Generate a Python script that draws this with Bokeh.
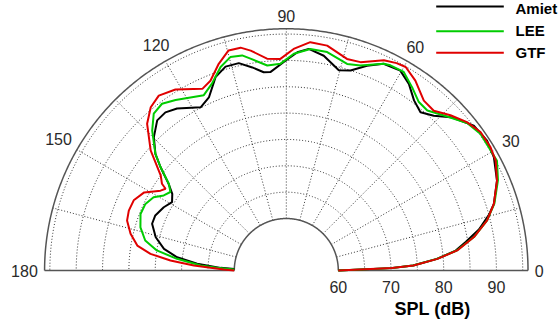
import numpy as np
from bokeh.plotting import figure
from bokeh.models import Range1d
from bokeh.embed import file_html
from bokeh.resources import INLINE
from bokeh.core.properties import value

# ---------------- data (angle in degrees, SPL in dB) ----------------
angle_amiet = [0, 1.3, 2.25, 4.4, 6.7, 9.0, 12.0, 15.5, 17.8, 23.1, 28.6, 32.9, 37.7, 43.0,
               46.4, 49.7, 53.1, 56.7, 60.3, 64.8, 68.5, 72.2, 75.3, 80.1, 84.2, 87.1, 90.7,
               94.6, 96.5, 99.5, 102.9, 106.6, 110.1, 114.1, 117.7, 124.0, 127.4, 130.7,
               134.8, 138.3, 140.6, 143.6, 146.1, 149.1, 152.7, 157.2, 160.8, 165.7, 170.0,
               173.1, 175.7, 177.7, 178.3]
spl_amiet = [60, 70.0, 74.2, 78.8, 82.5, 84.6, 87.5, 90.1, 91.5, 93.6, 95.0, 95.5, 95.1, 92.8,
             90.7, 89.5, 90.5, 92.5, 93.8, 93.5, 91.9, 90.0, 89.4, 91.5, 92.4, 91.6, 89.7,
             87.9, 88.0, 89.2, 90.5, 90.5, 89.2, 86.1, 85.1, 87.2, 87.9, 87.7,
             85.8, 83.4, 81.0, 77.9, 76.2, 75.4, 76.3, 77.1, 77.1, 75.7, 73.7,
             71.0, 67.1, 62.6, 60]

angle_lee = [0, 1.3, 2.25, 4.4, 6.7, 10.1, 14.0, 17.8, 23.1, 27.5, 30.4, 35.1, 39.2, 44.5,
             48.6, 51.8, 55.5, 59.4, 63.1, 64.8, 70.1, 73.6, 79.4, 83.8, 88.0, 91.6, 95.3,
             99.6, 101.6, 104.7, 107.9, 111.7, 115.2, 123.0, 126.7, 130.2, 133.8, 138.3,
             140.6, 143.6, 145.9, 148.5, 151.1, 154.7, 158.8, 163.5, 168.0, 171.2, 173.9,
             176.7, 177.8, 178.8]
spl_lee = [60, 70.0, 74.2, 78.8, 82.7, 86.3, 89.4, 91.6, 93.8, 95.2, 95.1, 95.2, 94.4, 92.1,
           90.6, 90.8, 92.3, 93.9, 93.8, 93.5, 91.5, 91.0, 92.3, 92.4, 91.3, 89.4, 89.2,
           90.9, 91.8, 92.0, 90.7, 88.3, 86.9, 88.7, 89.6, 89.1, 86.9, 83.4,
           81.0, 77.8, 76.7, 77.4, 78.9, 79.7, 79.8, 79.0, 77.5, 75.0, 71.0,
           66.4, 63.3, 60]

angle_gtf = [0, 1.3, 2.25, 4.4, 6.7, 10.1, 14.0, 17.8, 23.1, 27.7, 31.1, 35.5, 39.4, 43.4,
             47.3, 51.0, 55.8, 59.6, 62.0, 65.1, 70.4, 74.0, 79.7, 84.0, 88.1, 91.6, 95.2,
             99.2, 101.6, 104.7, 108.1, 111.8, 114.8, 121.5, 126.1, 129.7, 133.5, 138.5,
             142.9, 145.1, 145.9, 147.6, 151.2, 155.3, 159.2, 162.6, 166.7, 170.5, 173.0,
             175.1, 176.9, 178.0, 179.0, 180]
spl_gtf = [60, 70.2, 74.3, 78.9, 82.8, 86.3, 89.4, 91.5, 93.6, 95.0, 95.4, 95.4, 94.5, 93.0,
           91.4, 91.6, 93.7, 94.9, 94.7, 94.1, 92.1, 91.9, 93.5, 93.7, 92.2, 90.3, 90.5,
           92.4, 93.3, 93.3, 91.4, 88.9, 88.1, 90.4, 91.2, 90.4, 88.5, 84.5,
           80.0, 78.9, 77.8, 78.4, 80.9, 82.0, 82.1, 81.8, 80.5, 78.8, 76.1,
           72.2, 67.7, 64.5, 62.0, 60]

series_names = ["Amiet", "LEE", "GTF"]
series_colors = ["#000000", "#00cc00", "#e00000"]
series_angles = [angle_amiet, angle_lee, angle_gtf]
series_spl = [spl_amiet, spl_lee, spl_gtf]

theta_ticks = [0, 30, 60, 90, 120, 150, 180]
r_tick_labels = [60, 70, 80, 90]
r_grid = [65, 70, 75, 80, 85, 90, 95]
spoke_angles = list(range(15, 180, 15))
R_MIN, R_MAX = 60, 96

# ---------------- layout ----------------
W, H = 558, 324
PX = 5.27            # pixels per dB
CX, CY = 285.8, 270  # polar centre in figure pixels (from left / top)
HOLE = 52 / PX       # inner hole radius (data units)


def rad(db):
    return np.clip(np.asarray(db, dtype=float), R_MIN, R_MAX) - R_MIN + HOLE


def polar(ang, db):
    r = rad(db)
    t = np.deg2rad(np.asarray(ang, dtype=float))
    return r * np.cos(t), r * np.sin(t)


def px(fx, fy):
    return (fx - CX) / PX, (CY - fy) / PX


p = figure(width=W, height=H,
           x_range=Range1d(-CX / PX, (W - CX) / PX),
           y_range=Range1d(-(H - CY) / PX, CY / PX),
           output_backend="svg", toolbar_location=None,
           x_axis_location=None, y_axis_location=None, min_border=0)
p.grid.visible = False
p.outline_line_color = None
p.background_fill_color = "white"
p.border_fill_color = "white"

t_arc = np.linspace(0, 180, 361)
# dotted rings
for db in r_grid:
    x, y = polar(t_arc, np.full_like(t_arc, db))
    p.line(x, y, line_color="#333333", line_width=1, line_dash="1 2")
# dotted spokes
for a in spoke_angles:
    x, y = polar([a, a], [R_MIN, R_MAX])
    p.line(x, y, line_color="#333333", line_width=1, line_dash="1 2")
# solid frame: outer arc, inner arc, baseline
for db in (R_MAX, R_MIN):
    x, y = polar(t_arc, np.full_like(t_arc, db))
    p.line(x, y, line_color="#555555", line_width=1.5)
for a in (0, 180):
    x, y = polar([a, a], [R_MIN, R_MAX])
    p.line(x, y, line_color="#555555", line_width=1.5)

# curves
for ang, spl, col in zip(series_angles, series_spl, series_colors):
    x, y = polar(ang, spl)
    p.line(x, y, line_color=col, line_width=2)

font = value("Liberation Sans")
# angle labels
R_LAB = 248.5
for a in theta_ticks:
    s = str(a)
    c, sn = np.cos(np.deg2rad(a)), np.sin(np.deg2rad(a))
    ext = len(s) * 8.9 / 2 * abs(c) + 6 * abs(sn)
    rr = (R_LAB + ext) / PX
    p.text(x=[rr * c], y=[rr * sn], text=[s], text_font=font, text_font_size="16px",
           text_color="#2a2a2a", text_align="center", text_baseline="middle")

# radial labels
rx, _ = polar([0] * len(r_tick_labels), r_tick_labels)
p.text(x=list(rx), y=[-16 / PX] * len(r_tick_labels), text=[str(v) for v in r_tick_labels],
       text_font=font, text_font_size="16px", text_color="#2a2a2a",
       text_align="center", text_baseline="middle")

# axis title
tx, ty = px(432, 308.5)
p.text(x=[tx], y=[ty], text=["SPL (dB)"], text_font=font, text_font_size="18px",
       text_font_style="bold", text_color="#000000", text_align="center",
       text_baseline="middle")

# legend
line_y = [6, 30.7, 52.3]
text_y = [7.5, 30.3, 52]
for name, col, yl, yt in zip(series_names, series_colors, line_y, text_y):
    x0, y0 = px(435.7, yl)
    x1, _ = px(503.3, yl)
    p.line([x0, x1], [y0, y0], line_color=col, line_width=2)
    xt, yt_d = px(515, yt)
    p.text(x=[xt], y=[yt_d], text=[name], text_font=font, text_font_size="15px",
           text_font_style="bold", text_color="#000000", text_align="left",
           text_baseline="middle")

open("out.html", "w").write(file_html(p, INLINE))
